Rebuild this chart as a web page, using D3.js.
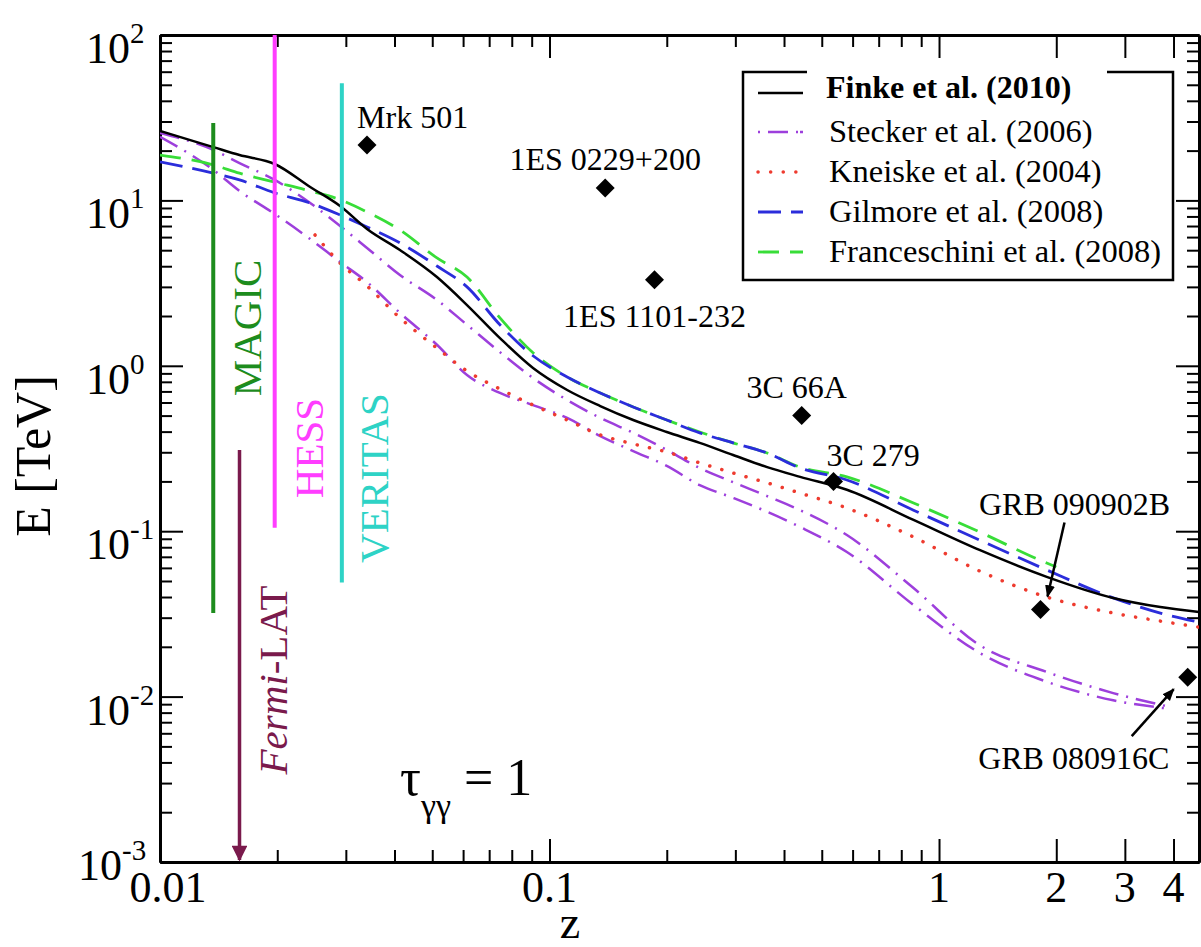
<!DOCTYPE html>
<html>
<head>
<meta charset="utf-8">
<script src="https://cdn.jsdelivr.net/npm/d3@7"></script>
<style>
  body { margin: 0; background: #fff; }
  text { font-family: "Liberation Serif", "Times New Roman", serif; }
</style>
</head>
<body>
<div id="chart-area"></div>
<script>
// ---- data (redshift z, energy E in TeV) ----
var zGrid = [0.01, 0.0137, 0.016, 0.0197, 0.0243, 0.029, 0.034, 0.0413, 0.0514, 0.0614, 0.0746, 0.0907, 0.111, 0.135, 0.164, 0.2, 0.243, 0.296, 0.362, 0.44, 0.58, 0.86, 1.27, 1.89, 2.8, 3.7, 4.65];
var finkeE = [26.3, 21.0, 18.8, 16.6, 12.05, 9.25, 6.72, 5.01, 3.44, 2.33, 1.47, 0.97, 0.714, 0.571, 0.47, 0.398, 0.342, 0.289, 0.244, 0.213, 0.178, 0.117, 0.077, 0.053, 0.0395, 0.0348, 0.0325];
var gilmoreE = [17.1, 14.6, 13.3, 11.1, 9.64, 8.16, 6.91, 5.53, 4.01, 3.0, 1.77, 1.15, 0.856, 0.685, 0.564, 0.47, 0.393, 0.342, 0.297, 0.241, 0.204, 0.134, 0.0885, 0.0583, 0.0395, 0.032, 0.0282];

var franceschiniZ = [0.01, 0.0137, 0.016, 0.0197, 0.0243, 0.029, 0.034, 0.0413, 0.0514, 0.0614, 0.0746, 0.0907, 0.111, 0.135, 0.164, 0.2, 0.243, 0.296, 0.362, 0.44, 0.58, 0.86, 1.27, 1.89, 2.0];
var franceschiniE = [18.8, 16.4, 14.6, 12.9, 11.4, 10.1, 8.51, 6.62, 4.49, 3.44, 1.95, 1.2, 0.856, 0.685, 0.564, 0.47, 0.398, 0.342, 0.297, 0.244, 0.213, 0.148, 0.099, 0.0642, 0.0608];

var kneiskeZ = [0.025, 0.029, 0.034, 0.0413, 0.0514, 0.0614, 0.0746, 0.0907, 0.111, 0.135, 0.164, 0.2, 0.243, 0.296, 0.362, 0.44, 0.58, 0.86, 1.27, 1.89, 2.8, 3.7, 4.65];
var kneiskeE = [6.18, 4.18, 3.04, 1.95, 1.28, 0.93, 0.724, 0.579, 0.47, 0.382, 0.337, 0.301, 0.259, 0.225, 0.196, 0.170, 0.138, 0.0922, 0.0575, 0.040, 0.032, 0.0286, 0.0263];

var steckerZ = [0.01, 0.0137, 0.016, 0.0197, 0.0243, 0.029, 0.034, 0.0413, 0.0514, 0.0614, 0.0746, 0.0907, 0.111, 0.135, 0.164, 0.2, 0.243, 0.296, 0.362, 0.44, 0.58, 0.86, 1.27, 1.89, 2.8, 3.8];
var steckerBaseE = [25.6, 20.2, 16.8, 13.3, 9.64, 7.0, 5.16, 3.54, 2.5, 1.77, 1.21, 0.844, 0.621, 0.484, 0.393, 0.31, 0.241, 0.198, 0.163, 0.134, 0.0948, 0.0453, 0.0205, 0.0141, 0.0105, 0.0088];
var steckerFastE = [24.2, 15.3, 11.4, 8.28, 5.84, 4.24, 3.21, 2.09, 1.34, 0.88, 0.685, 0.579, 0.484, 0.376, 0.305, 0.248, 0.19, 0.159, 0.131, 0.106, 0.0748, 0.0358, 0.0184, 0.0123, 0.0095, 0.0085];

// sources (diamonds)
var srcNames = ["Mrk 501", "1ES 0229+200", "1ES 1101-232", "3C 66A", "3C 279", "GRB 090902B", "GRB 080916C"];
var srcZ = [0.034, 0.139, 0.186, 0.444, 0.536, 1.822, 4.35];
var srcE = [21.6, 11.9, 3.31, 0.50, 0.20, 0.0336, 0.0131];

// instrument energy ranges
var instNames = ["MAGIC", "HESS", "VERITAS", "Fermi-LAT"];
var instZ = [0.0137, 0.0197, 0.0293, 0.016];
var instEmin = [0.032, 0.105, 0.049, 0.001];
var instEmax = [29.4, 100, 51, 0.31];

var legendNames = ["Finke et al. (2010)", "Stecker et al. (2006)", "Kneiske et al. (2004)", "Gilmore et al. (2008)", "Franceschini et al. (2008)"];

var xMajorTicks = [0.01, 0.1, 1, 2, 3, 4];
var xTickLabels = ["0.01", "0.1", "1", "2", "3", "4"];
var xMinorTicks = [0.02, 0.03, 0.04, 0.05, 0.06, 0.07, 0.08, 0.09, 0.2, 0.3, 0.4, 0.5, 0.6, 0.7, 0.8, 0.9];
var yDecades = [-3, -2, -1, 0, 1, 2];

// ---- layout ----
var width = 1201, height = 947;
var margin = {top: 35, left: 160};
var plotW = 1039, plotH = 827;

var svg = d3.select('#chart-area').append('svg')
    .attr('width', width)
    .attr('height', height);

var g = svg.append('g')
    .attr('transform', 'translate(' + margin.left + ',' + margin.top + ')');

var x = d3.scaleLog().domain([0.01, 4.65]).range([0, plotW]);
var y = d3.scaleLog().domain([1e-3, 1e2]).range([plotH, 0]);

var yMajor = yDecades.map(function (p) { return Math.pow(10, p); });
var yMinor = [];
yDecades.slice(0, -1).forEach(function (p) {
    for (var k = 2; k <= 9; k++) yMinor.push(k * Math.pow(10, p));
});

svg.append('defs').append('clipPath').attr('id', 'plot-clip')
  .append('rect').attr('width', plotW).attr('height', plotH);

var defs = svg.select('defs');
defs.append('marker').attr('id', 'arrow-black')
    .attr('viewBox', '0 0 10 10').attr('refX', 9).attr('refY', 5)
    .attr('markerWidth', 5).attr('markerHeight', 5).attr('markerUnits', 'strokeWidth')
    .attr('orient', 'auto')
  .append('path').attr('d', 'M0,1 L10,5 L0,9 z').attr('fill', '#000');
defs.append('marker').attr('id', 'arrow-fermi')
    .attr('viewBox', '0 0 10 10').attr('refX', 9).attr('refY', 5)
    .attr('markerWidth', 5).attr('markerHeight', 4.5).attr('markerUnits', 'strokeWidth')
    .attr('orient', 'auto')
  .append('path').attr('d', 'M0,0 L10,5 L0,10 z').attr('fill', '#7a1a4c');

// ---- axes (inward ticks on all four sides) ----
function styleAxis(sel) {
    sel.selectAll('path.domain').attr('stroke', '#000').attr('stroke-width', 3);
    sel.selectAll('.tick line').attr('stroke', '#000').attr('stroke-width', 2);
    sel.selectAll('.tick text').remove();
}
var axes = [
    {a: d3.axisBottom(x), t: 'translate(0,' + plotH + ')', major: xMajorTicks, minor: xMinorTicks},
    {a: d3.axisTop(x), t: 'translate(0,0)', major: xMajorTicks, minor: xMinorTicks},
    {a: d3.axisLeft(y), t: 'translate(0,0)', major: yMajor, minor: yMinor},
    {a: d3.axisRight(y), t: 'translate(' + plotW + ',0)', major: yMajor, minor: yMinor}
];
axes.forEach(function (ax) {
    g.append('g').attr('transform', ax.t)
        .call(ax.a.tickValues(ax.major).tickSize(-23).tickSizeOuter(0).tickFormat(''))
        .call(styleAxis);
    g.append('g').attr('transform', ax.t)
        .call(ax.a.tickValues(ax.minor).tickSize(-12).tickSizeOuter(0).tickFormat(''))
        .call(styleAxis);
});

// tick labels
g.selectAll('.xlab').data(xMajorTicks).enter().append('text')
    .attr('class', 'xlab')
    .attr('x', function (d, i) { return x(d) + (i === 0 ? 8 : 0); })
    .attr('y', plotH + 40)
    .attr('text-anchor', 'middle')
    .attr('font-size', '44px')
    .text(function (d, i) { return xTickLabels[i]; });

var ylab = g.selectAll('.ylab').data(yDecades).enter().append('text')
    .attr('class', 'ylab')
    .attr('x', function (d) { return d === -3 ? -82 : -74; })
    .attr('y', function (d) { return y(Math.pow(10, d)) + (d === -3 ? 18 : 28); })
    .attr('font-size', '44px');
ylab.append('tspan').text('10');
ylab.append('tspan')
    .attr('font-size', '29px')
    .attr('dy', -20)
    .text(function (d) { return d < 0 ? '-' + (-d) : '' + d; });

// axis titles
svg.append('text')
    .attr('transform', 'translate(50,456) rotate(-90)')
    .attr('text-anchor', 'middle')
    .attr('font-size', '50px')
    .text('E [TeV]');
svg.append('text')
    .attr('x', 570).attr('y', 938)
    .attr('text-anchor', 'middle')
    .attr('font-size', '46px')
    .text('z');

// ---- model curves ----
var series = [
    {z: steckerZ, e: steckerBaseE, color: '#9d3fdc', dash: '20,8,2,8', w: 2.5, cap: 'butt'},
    {z: steckerZ, e: steckerFastE, color: '#9d3fdc', dash: '20,8,2,8', w: 2.5, cap: 'butt'},
    {z: kneiskeZ, e: kneiskeE, color: '#ee3b2f', dash: '0.1,12.5', w: 3.5, cap: 'round'},
    {z: franceschiniZ, e: franceschiniE, color: '#38dd38', dash: '21,11', w: 2.8, cap: 'butt'},
    {z: zGrid, e: gilmoreE, color: '#2b2ddb', dash: '23,10', w: 2.8, cap: 'butt'},
    {z: zGrid, e: finkeE, color: '#000', dash: null, w: 2.5, cap: 'butt'}
];

var line = d3.line()
    .x(function (d) { return x(d[0]); })
    .y(function (d) { return y(d[1]); })
    .curve(d3.curveMonotoneX);

var curves = g.append('g').attr('clip-path', 'url(#plot-clip)');
series.forEach(function (s) {
    curves.append('path')
        .datum(d3.zip(s.z, s.e))
        .attr('d', line)
        .attr('fill', 'none')
        .attr('stroke', s.color)
        .attr('stroke-width', s.w)
        .attr('stroke-linecap', s.cap)
        .attr('stroke-dasharray', s.dash);
});

// ---- instrument ranges ----
var instColors = ['#1d8c1d', '#ff3dff', '#2ed3c6', '#7a1a4c'];
instNames.forEach(function (n, i) {
    var ln = g.append('line')
        .attr('x1', x(instZ[i])).attr('x2', x(instZ[i]))
        .attr('y1', y(instEmax[i]))
        .attr('y2', i === 3 ? y(instEmin[i]) - 2 : y(instEmin[i]))
        .attr('stroke', instColors[i])
        .attr('stroke-width', i === 3 ? 3.5 : 4);
    if (i === 3) ln.attr('marker-end', 'url(#arrow-fermi)');
});
// rotated instrument labels: [centre y on page, baseline x on page]
var instLabelPos = [[328, 261], [448, 323], [478, 388], [680, 287]];
instNames.forEach(function (n, i) {
    var t = svg.append('text')
        .attr('transform', 'translate(' + instLabelPos[i][1] + ',' + instLabelPos[i][0] + ') rotate(-90)')
        .attr('text-anchor', 'middle')
        .attr('font-size', '41px')
        .attr('fill', instColors[i]);
    if (n === 'Fermi-LAT') {
        t.append('tspan').attr('font-style', 'italic').text('Fermi');
        t.append('tspan').text('-LAT');
    } else {
        t.text(n);
    }
});

// ---- sources ----
var diamond = d3.symbol().type(d3.symbolSquare).size(180);
g.selectAll('.src').data(srcNames).enter().append('path')
    .attr('class', 'src')
    .attr('d', diamond)
    .attr('transform', function (d, i) {
        return 'translate(' + x(srcZ[i]) + ',' + y(srcE[i]) + ') rotate(45)';
    })
    .attr('fill', '#000');

// label offsets from the diamond: [dx, dy, anchor]
var srcLabelOff = [[-10, -17, 'start'], [0, -18, 'middle'], [0, 47, 'middle'], [-5, -18, 'middle'],
                   [-7, -15, 'start'], [34, -95, 'middle'], [-114, 92, 'middle']];
g.selectAll('.srclab').data(srcNames).enter().append('text')
    .attr('class', 'srclab')
    .attr('x', function (d, i) { return x(srcZ[i]) + srcLabelOff[i][0]; })
    .attr('y', function (d, i) { return y(srcE[i]) + srcLabelOff[i][1]; })
    .attr('text-anchor', function (d, i) { return srcLabelOff[i][2]; })
    .attr('font-size', '32px')
    .text(function (d) { return d; });

// arrows for the two GRBs: [x1, y1, x2, y2] relative to the diamond
var grbArrows = [[5, [24, -87, 7, -13]], [6, [-56, 59, -14, 12]]];
grbArrows.forEach(function (a) {
    var cx = x(srcZ[a[0]]), cy = y(srcE[a[0]]), o = a[1];
    g.append('line')
        .attr('x1', cx + o[0]).attr('y1', cy + o[1])
        .attr('x2', cx + o[2]).attr('y2', cy + o[3])
        .attr('stroke', '#000').attr('stroke-width', 2.5)
        .attr('marker-end', 'url(#arrow-black)');
});

// tau label
var tau = svg.append('text').attr('x', 400).attr('y', 795).attr('font-size', '52px');
tau.append('tspan').text('\u03c4');
tau.append('tspan').attr('font-size', '34px').attr('dy', 22).text('\u03b3\u03b3');
tau.append('tspan').attr('dy', -22).text(' = 1');

// ---- legend ----
var leg = svg.append('g');
leg.append('rect')
    .attr('x', 743).attr('y', 72).attr('width', 430).attr('height', 208)
    .attr('fill', '#fff').attr('stroke', '#000').attr('stroke-width', 2.5);
leg.append('rect')
    .attr('x', 807).attr('y', 60).attr('width', 300).attr('height', 44)
    .attr('fill', '#fff');
var legStyle = [series[5], series[0], series[2], series[4], series[3]];
var legY = [93, 132, 172, 212, 252];
legendNames.forEach(function (n, i) {
    var s = legStyle[i];
    leg.append('line')
        .attr('x1', 758).attr('x2', 803)
        .attr('y1', legY[i]).attr('y2', legY[i])
        .attr('stroke', s.color)
        .attr('stroke-width', s.w)
        .attr('stroke-linecap', s.cap)
        .attr('stroke-dasharray', i === 1 ? '2,8,20,8,2' : s.dash);
    leg.append('text')
        .attr('x', i === 0 ? 826 : 829)
        .attr('y', legY[i] + (i === 0 ? 5 : 10))
        .attr('font-size', i === 0 ? '32px' : '32.5px')
        .attr('font-weight', i === 0 ? 'bold' : 'normal')
        .text(n);
});
</script>
</body>
</html>
